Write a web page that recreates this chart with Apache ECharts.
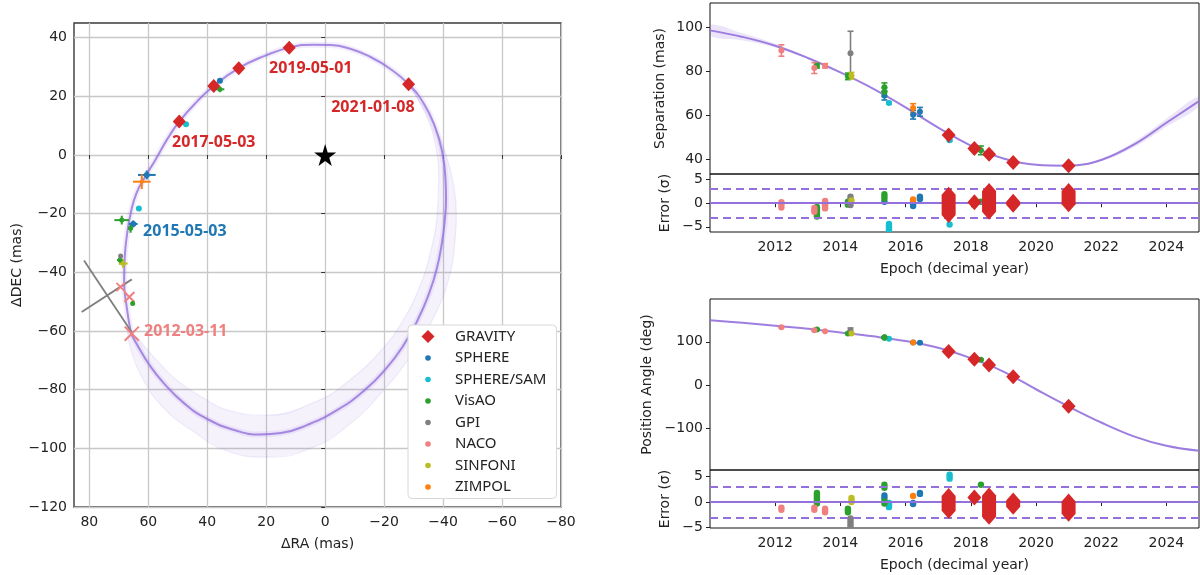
<!DOCTYPE html>
<html>
<head>
<meta charset="utf-8">
<script src="https://cdn.jsdelivr.net/npm/echarts@6/dist/echarts.min.js"></script>
<style>
html, body { margin: 0; padding: 0; background: #fff; }
#main { width: 1200px; height: 575px; }
</style>
</head>
<body>
<div id="main"></div>
<script>
//仪器名称和颜色
var instNames = ['GRAVITY', 'SPHERE', 'SPHERE/SAM', 'VisAO', 'GPI', 'NACO', 'SINFONI', 'ZIMPOL'];
var instColors = ['#d62728', '#1f77b4', '#17becf', '#2ca02c', '#7f7f7f', '#f08080', '#bcbd22', '#ff7f0e'];

//刻度
var orbitRaTicks = [-80, -60, -40, -20, 0, 20, 40, 60, 80];
var orbitDecTicks = [-120, -100, -80, -60, -40, -20, 0, 20, 40];
var yearTicks = [2012, 2014, 2016, 2018, 2020, 2022, 2024];
var sepTicks = [40, 60, 80, 100];
var paTicks = [-100, 0, 100];
var resTicks = [-5, 0, 5];

//轨道 [RA, DEC] (mas)
var orbitCore = [[65.8, -61], [67.3, -52], [68.2, -43], [68, -35], [67.2, -27], [66, -20], [64, -13], [60.8, -7], [57.5, -1.5], [53.5, 5.5], [49.5, 11.4], [43.5, 18.2], [37.8, 23.5], [29.3, 29.6], [20.5, 33.8], [12.2, 36.6], [4, 37.6], [-2, 37.5], [-8.5, 36.2], [-15.2, 33.5], [-21.9, 29.5], [-28.3, 24.1], [-33.5, 17.5], [-37.3, 9.5], [-39.7, 1], [-40.8, -8], [-41, -15], [-40.6, -22], [-39.6, -30], [-37.8, -39], [-35.3, -47], [-31.5, -56], [-26.5, -65], [-20.5, -73], [-13, -80.5], [-4, -87], [6, -92], [15, -94.8], [22, -95.3], [30, -94], [40, -90], [48, -84.5], [55, -77.5], [60, -71], [63.3, -65.5], [65.8, -61]];
var orbitOuter = [[-28.3, 24.1], [-36, 12], [-41, 0], [-43.5, -10], [-44.5, -20], [-44, -30], [-42, -42], [-37, -55], [-30, -67], [-20, -80], [-8, -92], [5, -100], [20, -103], [33, -101], [45, -94], [55, -86], [62, -76], [66, -66], [67, -60]];
var orbitInner = [[-28.3, 24.1], [-34, 14], [-37.5, 3], [-38.5, -8], [-38, -20], [-36, -32], [-32, -45], [-26, -57], [-19, -66.6], [-8, -77], [3, -84], [20, -88.7], [33, -87], [40, -83.6], [50, -77], [58, -69], [64, -62]];
var starPos = [[0, 0]];

//轨道图上的观测点 [RA, DEC, RA误差, DEC误差]
var gravityOrbit = [[49.5, 11.4], [37.8, 23.5], [29.3, 29.6], [12.2, 36.6], [-28.3, 24.1]];
var sphereOrbit = [[60.5, -6.8, 3, 1.5], [65.1, -23.5, 1.5, 1.2], [35.7, 25.3, 0.5, 0.5]];
var samOrbit = [[63.2, -18.2, 0.3, 0.3], [47.2, 10.5, 0.3, 0.3]];
var visaoOrbit = [[69, -22.2, 2.5, 1.5], [66, -25, 0.8, 1.5], [69.6, -35.8, 1, 1.5], [65.3, -50.6, 0.6, 0.6], [35.7, 22.4, 1.5, 1]];
var gpiOrbit = [[69.4, -34.4, 0.5, 0.5]];
var gpiErrLines = [[81.8, -36, 65.4, -60.8], [82.6, -53.5, 65.6, -42.4]];
var nacoOrbit = [[69.4, -45, 1.4], [66.4, -48.4, 1.7], [65.6, -60.9, 2.4]];
var sinfoniOrbit = [[68.5, -37, 1.5, 1.5]];
var zimpolOrbit = [[62.2, -9.1, 3, 2.5]];

//日期标注
var dateNames = ['2019-05-01', '2021-01-08', '2017-05-03', '2015-05-03', '2012-03-11'];
var datePos = [[4.9, 29.6], [-16.2, 16.3], [37.8, 4.4], [47.6, -26.2], [47.3, -60.3]];
var dateColors = ['#d62728', '#d62728', '#d62728', '#1f77b4', '#f08080'];

//拟合曲线 (按年读数)
var curveYears = [2010, 2011, 2012, 2013, 2014, 2015, 2016, 2017, 2018, 2019, 2020, 2021, 2022, 2023, 2024, 2025];
var sepCurve = [98.8, 95.8, 91.8, 86.2, 79.6, 72.2, 63.6, 54.4, 46.2, 40.3, 37.4, 37.0, 39.6, 46.6, 56.6, 66.5];
var sepUpper = [101.5, 97.5, 92.7, 86.5, 79.7, 72.3, 63.7, 54.5, 46.3, 40.4, 37.5, 37.2, 40.2, 47.8, 58.4, 68.8];
var sepLower = [96.3, 94.2, 91, 85.9, 79.5, 72.1, 63.5, 54.3, 46.1, 40.2, 37.3, 36.8, 39.0, 45.4, 54.8, 64.2];
var paCurve = [150, 143.8, 137, 130, 121.5, 112.5, 101.5, 86, 62, 31, -10, -50, -87, -119, -141, -152.5];
var paUpper = [151, 144.3, 137.3, 130.2, 121.6, 112.6, 101.6, 86.1, 62.1, 31.1, -9.9, -49.8, -86.6, -118.2, -139.8, -150.8];
var paLower = [149, 143.3, 136.7, 129.8, 121.4, 112.4, 101.4, 85.9, 61.9, 30.9, -10.1, -50.2, -87.4, -119.8, -142.2, -154.2];

//间距 [历元, 值, 误差]
var gravitySep = [[2017.32, 51.0], [2018.11, 44.9], [2018.56, 42.2], [2019.3, 38.5], [2021.0, 37.0]];
var sphereSep = [[2015.35, 69, 2], [2016.23, 60.3, 2], [2016.44, 61.6, 2]];
var samSep = [[2015.49, 65.6, 0.5], [2017.35, 48.6, 0.5]];
var visaoSep = [[2013.28, 82.6, 1], [2014.23, 77.8, 1.5], [2015.35, 72.8, 2], [2015.35, 70.6, 2], [2018.31, 44, 2]];
var gpiSep = [[2014.31, 88.4, 10]];
var nacoSep = [[2012.19, 89.6, 2.6], [2013.2, 81.6, 2.5], [2013.53, 82.6, 1]];
var sinfoniSep = [[2014.34, 78.1, 1.5]];
var zimpolSep = [[2016.23, 63.3, 2]];

//位置角 [历元, 值, 误差]
var gravityPa = [[2017.32, 77.7], [2018.11, 59.2], [2018.56, 46.2], [2019.3, 19.2], [2021.0, -49.2]];
var spherePa = [[2015.35, 110, 1], [2016.23, 98, 1], [2016.44, 97.7, 1]];
var samPa = [[2015.49, 107, 0.5], [2017.35, 78, 0.5]];
var visaoPa = [[2013.28, 128.5, 1], [2014.23, 119.2, 1], [2015.35, 110.5, 1], [2015.35, 109.5, 1], [2018.31, 58.5, 1]];
var gpiPa = [[2014.31, 126.9, 5]];
var nacoPa = [[2012.19, 133.8, 0.8], [2013.2, 126.9, 0.8], [2013.53, 124.6, 0.8]];
var sinfoniPa = [[2014.34, 119.2, 1]];
var zimpolPa = [[2016.23, 98.5, 1]];

//残差 [历元, 下限, 上限] (sigma)
var gravitySepRes = [[2017.32, -2.5, 1.8], [2018.11, 0.2, 0.2], [2018.56, -1.8, 2.6], [2019.3, -0.3, 0.3], [2021.0, -0.2, 2.6]];
var sphereSepRes = [[2015.35, 0.3, 0.3], [2016.23, -0.6, -0.1], [2016.44, 0.9, 1.4]];
var samSepRes = [[2015.49, -7, -4.4], [2017.35, -4.5, -4.5]];
var visaoSepRes = [[2013.28, -2.8, -0.8], [2014.23, -0.3, 0.3], [2015.35, 1.0, 1.9], [2018.31, 0.3, 0.3]];
var gpiSepRes = [[2014.31, -0.4, 1.4]];
var nacoSepRes = [[2012.19, -0.9, 0.2], [2013.2, -1.8, -1.0], [2013.53, -1.1, 0.5]];
var sinfoniSepRes = [[2014.34, 0.6, 0.6]];
var zimpolSepRes = [[2016.23, 0.5, 0.8]];

var gravityPaRes = [[2017.32, -1.7, 1.2], [2018.11, 0.9, 0.9], [2018.56, -2.9, 1.3], [2019.3, -0.9, 0.3], [2021.0, -2.3, 0.1]];
var spherePaRes = [[2015.35, 0.7, 1.3], [2016.23, -0.4, -0.2], [2016.44, 1.6, 1.8]];
var samPaRes = [[2015.49, -1.0, -0.2], [2017.35, 4.6, 5.4]];
var visaoPaRes = [[2013.28, -0.3, 1.8], [2014.23, -2.0, -1.3], [2015.35, 2.8, 3.4], [2015.35, -0.3, 0.1], [2018.31, 3.4, 3.4]];
var gpiPaRes = [[2014.31, -7, -3.2]];
var nacoPaRes = [[2012.19, -1.5, -1.1], [2013.2, -1.5, -1.1], [2013.53, -2.0, -1.3]];
var sinfoniPaRes = [[2014.34, 0, 0.8]];
var zimpolPaRes = [[2016.23, 1.2, 1.2]];

var purple = '#9370db';
var fontMain = 'DejaVu Sans';

function minusFmt(v) {
    return String(v).replace('-', '\u2212');
}
function yearFmt(v) {
    return String(v);
}
function pairs(xs, ys) {
    return xs.map(function (x, i) { return [x, ys[i]]; });
}

//误差带多边形
function bandSeries(upper, lower, xi, yi, alpha) {
    return {
        type: 'custom', xAxisIndex: xi, yAxisIndex: yi, silent: true, clip: true, z: 1,
        data: [upper[0]],
        renderItem: function (params, api) {
            var pts = [];
            for (var i = 0; i < upper.length; i++) pts.push(api.coord(upper[i]));
            for (var j = lower.length - 1; j >= 0; j--) pts.push(api.coord(lower[j]));
            return { type: 'polygon', shape: { points: pts, smooth: 0.4 }, style: { fill: 'rgba(147,112,219,' + alpha + ')' } };
        }
    };
}

//轨道图十字误差
function crossSeries(name, data, color) {
    return {
        name: name, type: 'custom', xAxisIndex: 0, yAxisIndex: 0, z: 4, data: data,
        renderItem: function (params, api) {
            var x = api.value(0), y = api.value(1), ex = api.value(2), ey = api.value(3);
            var a = api.coord([x - ex, y]), b = api.coord([x + ex, y]);
            var c = api.coord([x, y - ey]), d = api.coord([x, y + ey]);
            return {
                type: 'group', children: [
                    { type: 'line', shape: { x1: a[0], y1: a[1], x2: b[0], y2: b[1] }, style: { stroke: color, lineWidth: 2 } },
                    { type: 'line', shape: { x1: c[0], y1: c[1], x2: d[0], y2: d[1] }, style: { stroke: color, lineWidth: 2 } }
                ]
            };
        }
    };
}

//NACO 叉号
function xSeries(name, data, color) {
    return {
        name: name, type: 'custom', xAxisIndex: 0, yAxisIndex: 0, z: 4, data: data,
        renderItem: function (params, api) {
            var x = api.value(0), y = api.value(1), r = api.value(2);
            var a = api.coord([x + r, y + r]), b = api.coord([x - r, y - r]);
            var c = api.coord([x - r, y + r]), d = api.coord([x + r, y - r]);
            return {
                type: 'group', children: [
                    { type: 'line', shape: { x1: a[0], y1: a[1], x2: b[0], y2: b[1] }, style: { stroke: color, lineWidth: 2 } },
                    { type: 'line', shape: { x1: c[0], y1: c[1], x2: d[0], y2: d[1] }, style: { stroke: color, lineWidth: 2 } }
                ]
            };
        }
    };
}

//散点
function dotSeries(name, data, xi, yi, color, size) {
    return {
        name: name, type: 'scatter', xAxisIndex: xi, yAxisIndex: yi, z: 5,
        data: data.map(function (d) { return [d[0], d[1]]; }),
        symbolSize: size || 6, itemStyle: { color: color, opacity: 1 }
    };
}

//竖直误差棒
function errSeries(name, data, xi, yi, color) {
    return {
        name: name, type: 'custom', xAxisIndex: xi, yAxisIndex: yi, z: 4, data: data,
        renderItem: function (params, api) {
            var x = api.value(0), y = api.value(1), e = api.value(2);
            var t = api.coord([x, y + e]), b = api.coord([x, y - e]);
            var s = { stroke: color, lineWidth: 1.6 };
            return {
                type: 'group', children: [
                    { type: 'line', shape: { x1: t[0], y1: t[1], x2: b[0], y2: b[1] }, style: s },
                    { type: 'line', shape: { x1: t[0] - 3, y1: t[1], x2: t[0] + 3, y2: t[1] }, style: s },
                    { type: 'line', shape: { x1: b[0] - 3, y1: b[1], x2: b[0] + 3, y2: b[1] }, style: s }
                ]
            };
        }
    };
}

//残差竖条
function smearSeries(name, data, xi, yi, color, diamond) {
    return {
        name: name, type: 'custom', xAxisIndex: xi, yAxisIndex: yi, clip: true, z: diamond ? 6 : 4, data: data,
        renderItem: function (params, api) {
            var x = api.value(0), lo = api.value(1), hi = api.value(2);
            var t = api.coord([x, hi]), b = api.coord([x, lo]);
            if (diamond) {
                var w = 7, h = 8;
                return {
                    type: 'polygon',
                    shape: { points: [[t[0], t[1] - h], [t[0] + w, t[1]], [b[0] + w, b[1]], [b[0], b[1] + h], [b[0] - w, b[1]], [t[0] - w, t[1]]] },
                    style: { fill: color }
                };
            }
            return {
                type: 'rect',
                shape: { x: t[0] - 3.2, y: t[1] - 3.2, width: 6.4, height: b[1] - t[1] + 6.4, r: 3.2 },
                style: { fill: color }
            };
        }
    };
}

var grids = [
    { left: 74, top: 23, width: 487, height: 484 },
    { left: 710, top: 3, width: 489, height: 171 },
    { left: 710, top: 174, width: 489, height: 58 },
    { left: 710, top: 299, width: 489, height: 171 },
    { left: 710, top: 470, width: 489, height: 58 }
];
grids.forEach(function (g, i) {
    g.show = true;
    g.borderColor = i === 0 ? '#3a3a3a' : '#111';
    g.borderWidth = i === 0 ? 1.4 : 1;
    g.backgroundColor = 'transparent';
});

var nameStyle = { color: '#222', fontFamily: fontMain, fontSize: 14 };

function yearAxis(gi, showLabels) {
    return {
        type: 'value', gridIndex: gi, min: 2010, max: 2025,
        axisLine: { show: false },
        splitLine: { show: false },
        axisTick: { show: showLabels, customValues: yearTicks, length: 4, lineStyle: { color: '#222' } },
        axisLabel: { show: showLabels, customValues: yearTicks, color: '#222', fontFamily: fontMain, fontSize: 14, margin: 8, formatter: yearFmt },
        name: showLabels ? 'Epoch (decimal year)' : '', nameLocation: 'middle', nameGap: 30, nameTextStyle: nameStyle
    };
}
function valAxis(gi, min, max, ticks, name, gap) {
    return {
        type: 'value', gridIndex: gi, min: min, max: max,
        axisLine: { show: false },
        splitLine: { show: false },
        axisTick: { show: true, customValues: ticks, length: 4, lineStyle: { color: '#222' } },
        axisLabel: { customValues: ticks, color: '#222', fontFamily: fontMain, fontSize: 14, margin: 7, formatter: minusFmt },
        name: name, nameLocation: 'middle', nameGap: gap, nameTextStyle: nameStyle
    };
}

var xAxes = [
    {
        type: 'value', gridIndex: 0, inverse: true, min: -80, max: 85.2, interval: 20,
        axisLine: { show: false },
        splitLine: { show: true, lineStyle: { color: '#c8c8c8', width: 1.3 } },
        axisTick: { show: true, customValues: orbitRaTicks, length: 4, lineStyle: { color: '#333' } },
        axisLabel: { customValues: orbitRaTicks, color: '#222', fontFamily: fontMain, fontSize: 14, margin: 8, formatter: minusFmt },
        name: '\u0394RA (mas)', nameLocation: 'middle', nameGap: 30, nameTextStyle: nameStyle
    },
    yearAxis(1, false), yearAxis(2, true), yearAxis(3, false), yearAxis(4, true)
];
var yAxes = [
    {
        type: 'value', gridIndex: 0, min: -120, max: 45, interval: 20,
        axisLine: { show: false },
        splitLine: { show: true, lineStyle: { color: '#c8c8c8', width: 1.3 } },
        axisTick: { show: true, customValues: orbitDecTicks, length: 4, lineStyle: { color: '#333' } },
        axisLabel: { customValues: orbitDecTicks, color: '#222', fontFamily: fontMain, fontSize: 14, margin: 7, formatter: minusFmt },
        name: '\u0394DEC (mas)', nameLocation: 'middle', nameGap: 48, nameTextStyle: nameStyle
    },
    valAxis(1, 33.2, 111.3, sepTicks, 'Separation (mas)', 43),
    valAxis(2, -6.1, 6.2, resTicks, 'Error (\u03c3)', 38),
    valAxis(3, -197, 199, paTicks, 'Position Angle (deg)', 56),
    valAxis(4, -5.1, 6.3, resTicks, 'Error (\u03c3)', 38)
];

var series = [];

//轨道图
series.push(bandSeries(orbitOuter, orbitInner, 0, 0, 0.09));
series.push({ type: 'line', xAxisIndex: 0, yAxisIndex: 0, data: orbitOuter, smooth: 0.5, showSymbol: false, silent: true, z: 2, lineStyle: { color: purple, width: 1.2, opacity: 0.12 } });
series.push({ type: 'line', xAxisIndex: 0, yAxisIndex: 0, data: orbitInner, smooth: 0.5, showSymbol: false, silent: true, z: 2, lineStyle: { color: purple, width: 1.2, opacity: 0.12 } });
series.push({ type: 'line', xAxisIndex: 0, yAxisIndex: 0, data: orbitCore, smooth: 0.5, showSymbol: false, silent: true, z: 2, lineStyle: { color: purple, width: 6, opacity: 0.12 } });
series.push({ type: 'line', xAxisIndex: 0, yAxisIndex: 0, data: orbitCore, smooth: 0.5, showSymbol: false, silent: true, z: 3, lineStyle: { color: purple, width: 2, opacity: 0.8 } });
series.push({
    type: 'custom', name: 'GPI', xAxisIndex: 0, yAxisIndex: 0, z: 4, data: gpiErrLines,
    renderItem: function (params, api) {
        var a = api.coord([api.value(0), api.value(1)]), b = api.coord([api.value(2), api.value(3)]);
        return { type: 'line', shape: { x1: a[0], y1: a[1], x2: b[0], y2: b[1] }, style: { stroke: instColors[4], lineWidth: 1.8 } };
    }
});
series.push(crossSeries('SPHERE', sphereOrbit, instColors[1]), dotSeries('SPHERE', sphereOrbit, 0, 0, instColors[1], 6));
series.push(dotSeries('SPHERE/SAM', samOrbit, 0, 0, instColors[2], 6));
series.push(crossSeries('VisAO', visaoOrbit, instColors[3]), dotSeries('VisAO', visaoOrbit, 0, 0, instColors[3], 5));
series.push(dotSeries('GPI', gpiOrbit, 0, 0, instColors[4], 5));
series.push(xSeries('NACO', nacoOrbit, instColors[5]));
series.push(crossSeries('SINFONI', sinfoniOrbit, instColors[6]), dotSeries('SINFONI', sinfoniOrbit, 0, 0, instColors[6], 5));
series.push(crossSeries('ZIMPOL', zimpolOrbit, instColors[7]), dotSeries('ZIMPOL', zimpolOrbit, 0, 0, instColors[7], 4));
series.push({ name: 'GRAVITY', type: 'scatter', xAxisIndex: 0, yAxisIndex: 0, z: 6, data: gravityOrbit, symbol: 'diamond', symbolSize: [13, 14], itemStyle: { color: instColors[0], opacity: 1 } });
series.push({
    type: 'scatter', xAxisIndex: 0, yAxisIndex: 0, z: 6, data: starPos, silent: true,
    symbol: 'path://M50,0L61,35L98,35L68,57L79,91L50,70L21,91L32,57L2,35L39,35Z', symbolSize: 22,
    itemStyle: { color: '#000', opacity: 1 }
});
series.push({
    type: 'scatter', xAxisIndex: 0, yAxisIndex: 0, z: 7, silent: true, symbolSize: 0,
    itemStyle: { opacity: 1 },
    data: dateNames.map(function (n, i) {
        return { name: n, value: datePos[i], label: { color: dateColors[i] } };
    }),
    label: { show: true, position: 'inside', formatter: '{b}', fontFamily: 'Noto Sans', fontWeight: 'bold', fontSize: 16, opacity: 1 }
});

//间距图 & 位置角图
var sepSets = [gravitySep, sphereSep, samSep, visaoSep, gpiSep, nacoSep, sinfoniSep, zimpolSep];
var paSets = [gravityPa, spherePa, samPa, visaoPa, gpiPa, nacoPa, sinfoniPa, zimpolPa];
var sepResSets = [gravitySepRes, sphereSepRes, samSepRes, visaoSepRes, gpiSepRes, nacoSepRes, sinfoniSepRes, zimpolSepRes];
var paResSets = [gravityPaRes, spherePaRes, samPaRes, visaoPaRes, gpiPaRes, nacoPaRes, sinfoniPaRes, zimpolPaRes];

[[1, sepCurve, sepUpper, sepLower], [3, paCurve, paUpper, paLower]].forEach(function (cfg) {
    var gi = cfg[0];
    series.push(bandSeries(pairs(curveYears, cfg[2]), pairs(curveYears, cfg[3]), gi, gi, 0.18));
    series.push({ type: 'line', xAxisIndex: gi, yAxisIndex: gi, data: pairs(curveYears, cfg[1]), smooth: 0.4, showSymbol: false, silent: true, z: 3, clip: true, lineStyle: { color: purple, width: 2, opacity: 0.9 } });
    //残差参考线
    series.push({
        type: 'line', xAxisIndex: gi + 1, yAxisIndex: gi + 1, data: [], silent: true,
        markLine: {
            silent: true, symbol: 'none', label: { show: false }, animation: false,
            data: [
                { yAxis: 0, lineStyle: { color: purple, width: 2, type: 'solid' } },
                { yAxis: 3, lineStyle: { color: purple, width: 1.8, type: [8, 5] } },
                { yAxis: -3, lineStyle: { color: purple, width: 1.8, type: [8, 5] } }
            ]
        }
    });
});

for (var k = 1; k < instNames.length; k++) {
    series.push(errSeries(instNames[k], sepSets[k], 1, 1, instColors[k]));
    series.push(dotSeries(instNames[k], sepSets[k], 1, 1, instColors[k], 6));
    series.push(errSeries(instNames[k], paSets[k], 3, 3, instColors[k]));
    series.push(dotSeries(instNames[k], paSets[k], 3, 3, instColors[k], 6));
    series.push(smearSeries(instNames[k], sepResSets[k], 2, 2, instColors[k], false));
    series.push(smearSeries(instNames[k], paResSets[k], 4, 4, instColors[k], false));
}
series.push({ name: 'GRAVITY', type: 'scatter', xAxisIndex: 1, yAxisIndex: 1, z: 6, data: gravitySep, symbol: 'diamond', symbolSize: [14, 15], itemStyle: { color: instColors[0], opacity: 1 } });
series.push({ name: 'GRAVITY', type: 'scatter', xAxisIndex: 3, yAxisIndex: 3, z: 6, data: gravityPa, symbol: 'diamond', symbolSize: [14, 15], itemStyle: { color: instColors[0], opacity: 1 } });
series.push(smearSeries('GRAVITY', gravitySepRes, 2, 2, instColors[0], true));
series.push(smearSeries('GRAVITY', gravityPaRes, 4, 4, instColors[0], true));

//图例图标
var iconDiamond = 'path://M0,0M36,14M14,0.5L20.5,7L14,13.5L7.5,7Z';
var iconDot = 'path://M0,0M36,14M11.2,7A2.8,2.8 0 1,0 16.8,7A2.8,2.8 0 1,0 11.2,7Z';

var option = {
    animation: false,
    backgroundColor: '#fff',
    grid: grids,
    xAxis: xAxes,
    yAxis: yAxes,
    legend: {
        orient: 'vertical', left: 408, top: 325,
        itemWidth: 36, itemHeight: 14, itemGap: 6.5,
        padding: [4, 10, 4, 6],
        backgroundColor: '#fff', borderColor: '#d8d8d8', borderWidth: 1, borderRadius: 4,
        textStyle: { color: '#222', fontFamily: 'Noto Sans', fontSize: 15 },
        selectedMode: false,
        data: instNames.map(function (n, i) {
            return { name: n, icon: i === 0 ? iconDiamond : iconDot, itemStyle: { color: instColors[i] } };
        })
    },
    series: series
};

var myChart = echarts.init(document.getElementById('main'));
myChart.setOption(option);
</script>
</body>
</html>
